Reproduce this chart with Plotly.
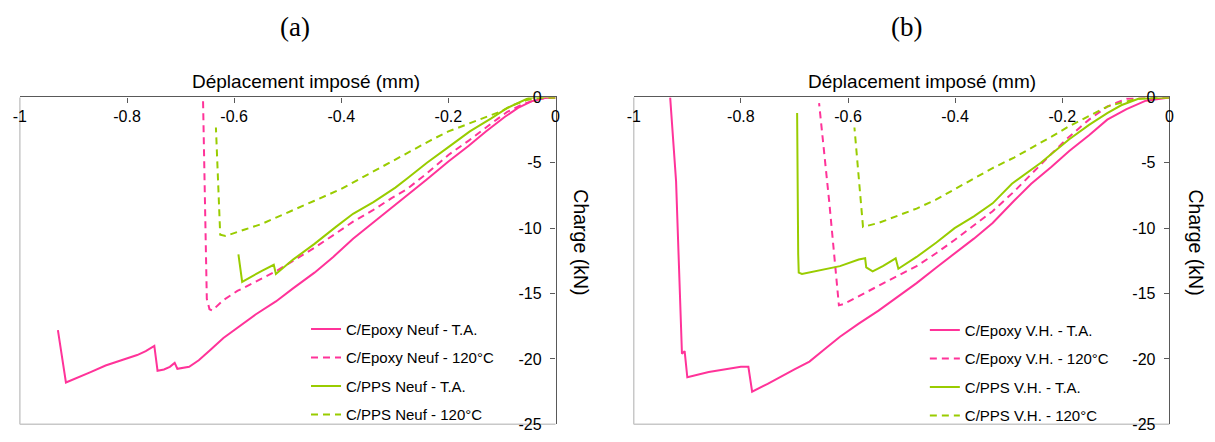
import plotly.graph_objects as go

W, H = 1215, 442

# ---------------- data (x: imposed displacement, mm ; y: load, kN) ----------------
# (a) Neuf
ep_n_ta_x = [0, -0.02, -0.045, -0.07, -0.095, -0.13, -0.162, -0.2, -0.241, -0.275, -0.306, -0.34, -0.378,
             -0.415, -0.45, -0.49, -0.522, -0.56, -0.594, -0.62, -0.644, -0.666, -0.684, -0.697, -0.706,
             -0.711, -0.72, -0.731, -0.743, -0.749, -0.765, -0.781, -0.81, -0.84, -0.868, -0.89, -0.903,
             -0.914, -0.929]
ep_n_ta_y = [0, -0.05, -0.3, -0.8, -1.5, -2.6, -3.7, -4.9, -6.3, -7.4, -8.4, -9.5, -10.8,
             -12.2, -13.4, -14.6, -15.6, -16.6, -17.6, -18.4, -19.3, -20.1, -20.6, -20.7, -20.75,
             -20.3, -20.6, -20.8, -20.9, -19.0, -19.4, -19.7, -20.1, -20.5, -21.0, -21.4, -21.6,
             -21.8, -17.8]

ep_n_120_x = [0, -0.03, -0.06, -0.09, -0.12, -0.162, -0.2, -0.24, -0.277, -0.306, -0.34, -0.378, -0.41,
              -0.45, -0.49, -0.522, -0.56, -0.594, -0.62, -0.641, -0.646, -0.651, -0.658]
ep_n_120_y = [0, -0.1, -0.5, -1.1, -2.0, -3.3, -4.4, -5.8, -7.0, -7.7, -8.6, -9.5, -10.4,
              -11.5, -12.5, -13.3, -14.1, -14.8, -15.5, -16.3, -16.2, -15.4, -0.3]

pps_n_ta_x = [0, -0.03, -0.05, -0.07, -0.09, -0.12, -0.16, -0.2, -0.24, -0.277, -0.299, -0.34, -0.378,
              -0.41, -0.45, -0.49, -0.522, -0.526, -0.55, -0.585, -0.592]
pps_n_ta_y = [0, 0.05, -0.05, -0.4, -0.8, -1.6, -2.6, -3.8, -5.0, -6.2, -6.9, -8.0, -8.9,
              -9.9, -11.2, -12.4, -13.5, -12.8, -13.3, -14.1, -12.0]

pps_n_120_x = [0, -0.03, -0.054, -0.08, -0.104, -0.13, -0.162, -0.2, -0.234, -0.27, -0.306, -0.35, -0.4,
               -0.45, -0.5, -0.55, -0.58, -0.6, -0.616, -0.626, -0.634]
pps_n_120_y = [0, -0.05, -0.2, -0.6, -1.1, -1.5, -2.0, -2.6, -3.3, -4.1, -4.9, -5.9, -7.0,
               -7.9, -8.8, -9.7, -10.1, -10.4, -10.6, -10.5, -2.3]

# (b) V.H.
ep_v_ta_x = [0, -0.044, -0.08, -0.116, -0.15, -0.187, -0.22, -0.258, -0.29, -0.33, -0.365, -0.401, -0.435,
             -0.472, -0.51, -0.543, -0.58, -0.615, -0.645, -0.672, -0.7, -0.722, -0.75, -0.779, -0.786,
             -0.80, -0.83, -0.86, -0.9, -0.905, -0.91, -0.921, -0.932]
ep_v_ta_y = [0, -0.25, -0.9, -1.7, -2.9, -4.1, -5.3, -6.6, -7.9, -9.6, -10.8, -11.9, -13.0,
             -14.2, -15.3, -16.3, -17.3, -18.3, -19.3, -20.2, -20.8, -21.3, -21.9, -22.5, -20.6,
             -20.6, -20.8, -21.0, -21.4, -19.4, -19.6, -6.4, 0]

ep_v_120_x = [0, -0.04, -0.08, -0.116, -0.15, -0.187, -0.22, -0.251, -0.29, -0.33, -0.365, -0.401, -0.435,
              -0.472, -0.51, -0.543, -0.575, -0.608, -0.617, -0.635, -0.654]
ep_v_120_y = [0, -0.02, -0.1, -0.7, -1.7, -3.0, -4.3, -5.6, -7.2, -8.7, -9.8, -10.9, -11.9,
              -12.9, -13.7, -14.4, -15.1, -15.8, -15.9, -8.0, -0.44]

pps_v_ta_x = [0, -0.058, -0.09, -0.116, -0.15, -0.187, -0.24, -0.294, -0.33, -0.365, -0.401, -0.435, -0.472,
              -0.506, -0.511, -0.535, -0.554, -0.561, -0.566, -0.568, -0.58, -0.615, -0.65, -0.686, -0.692,
              -0.693, -0.695]
pps_v_ta_y = [0, -0.1, -0.6, -1.2, -2.1, -3.2, -5.0, -6.6, -8.1, -9.1, -10.0, -11.1, -12.2,
              -13.1, -12.3, -12.9, -13.3, -13.1, -13.0, -12.3, -12.4, -12.9, -13.2, -13.5, -13.4,
              -12.0, -1.2]

pps_v_120_x = [0, -0.03, -0.058, -0.085, -0.116, -0.15, -0.187, -0.22, -0.258, -0.29, -0.33, -0.365, -0.401,
               -0.435, -0.472, -0.51, -0.543, -0.572, -0.588]
pps_v_120_y = [0, -0.02, -0.1, -0.35, -0.7, -1.4, -2.2, -3.0, -3.9, -4.6, -5.4, -6.2, -7.0,
               -7.8, -8.5, -9.1, -9.6, -9.9, -2.3]

names_a = ["C/Epoxy Neuf - T.A.", "C/Epoxy Neuf - 120°C", "C/PPS Neuf - T.A.", "C/PPS Neuf - 120°C"]
names_b = ["C/Epoxy V.H. - T.A.", "C/Epoxy V.H. - 120°C", "C/PPS V.H. - T.A.", "C/PPS V.H. - 120°C"]

x_tickvals = [-1, -0.8, -0.6, -0.4, -0.2, 0]
x_ticktext = ["-1", "-0.8", "-0.6", "-0.4", "-0.2", "0"]
y_tickvals = [0, -5, -10, -15, -20, -25]
y_ticktext = ["0", "-5", "-10", "-15", "-20", "-25"]

panel_labels = ["(a)", "(b)"]
x_title = "Déplacement imposé (mm)"
y_title = "Charge (kN)"

# ---------------- styling ----------------
PINK = "#FF3399"
GREEN = "#99CC00"
DASH = "7px,5px"
SANS = "Liberation Sans, Arial, sans-serif"
SERIF = "Liberation Serif, Times New Roman, serif"
AXC = "#595959"

fig = go.Figure()

series_a = [(ep_n_ta_x, ep_n_ta_y, PINK, "solid"), (ep_n_120_x, ep_n_120_y, PINK, DASH),
            (pps_n_ta_x, pps_n_ta_y, GREEN, "solid"), (pps_n_120_x, pps_n_120_y, GREEN, DASH)]
series_b = [(ep_v_ta_x, ep_v_ta_y, PINK, "solid"), (ep_v_120_x, ep_v_120_y, PINK, DASH),
            (pps_v_ta_x, pps_v_ta_y, GREEN, "solid"), (pps_v_120_x, pps_v_120_y, GREEN, DASH)]

for i, ((xs, ys, c, d), nm) in enumerate(zip(series_a, names_a)):
    fig.add_trace(go.Scatter(x=xs, y=ys, mode="lines", name=nm, line=dict(color=c, width=2, dash=d),
                             xaxis="x", yaxis="y", legend="legend", legendgroup="a%d" % i))
for i, ((xs, ys, c, d), nm) in enumerate(zip(series_b, names_b)):
    fig.add_trace(go.Scatter(x=xs, y=ys, mode="lines", name=nm, line=dict(color=c, width=2, dash=d),
                             xaxis="x2", yaxis="y2", legend="legend2", legendgroup="b%d" % i))

def px(v):
    return v / W

def py(v):
    return 1 - v / H

ydom = [py(433), py(93)]
xdom1 = [px(13), px(554)]
xdom2 = [px(633), px(1174)]

def xaxis_cfg(dom, anchor):
    return dict(domain=dom, anchor=anchor, side="top", range=[-1, 0], tickvals=x_tickvals,
                ticktext=x_ticktext, ticks="inside", ticklen=5, tickcolor=AXC, tickwidth=1,
                ticklabelposition="inside", ticklabeloverflow="allow", ticklabelstandoff=8,
                showline=True, linecolor=AXC, linewidth=1.3, showgrid=False, zeroline=False,
                tickfont=dict(family=SANS, size=16, color="black"), fixedrange=True)

def yaxis_cfg(anchor):
    return dict(domain=ydom, anchor=anchor, side="right", range=[-25, 0], tickvals=y_tickvals,
                ticktext=y_ticktext, ticks="inside", ticklen=5, tickcolor=AXC, tickwidth=1,
                ticklabelposition="inside", ticklabeloverflow="allow", ticklabelstandoff=9,
                showline=True, linecolor=AXC, linewidth=1.3, showgrid=False, zeroline=False,
                tickfont=dict(family=SANS, size=16, color="black"), fixedrange=True)

shapes = []
for xd in (xdom1, xdom2):
    shapes.append(dict(type="line", xref="paper", yref="paper", x0=xd[0], x1=xd[0], y0=ydom[0], y1=ydom[1],
                       line=dict(color="#C8C8C8", width=1.5), layer="below"))
    shapes.append(dict(type="line", xref="paper", yref="paper", x0=xd[0], x1=xd[1], y0=ydom[0], y1=ydom[0],
                       line=dict(color="#C8C8C8", width=1.5), layer="below"))

annotations = []
for lab, cx in zip(panel_labels, (291, 908)):
    annotations.append(dict(text=lab, x=px(cx), y=py(20), xref="paper", yref="paper", showarrow=False,
                            xanchor="center", yanchor="middle", font=dict(family=SERIF, size=27, color="black")))
for cx in (302, 924):
    annotations.append(dict(text=x_title, x=px(cx), y=py(76), xref="paper", yref="paper", showarrow=False,
                            xanchor="center", yanchor="middle", font=dict(family=SANS, size=19, color="black")))
for cx in (580, 1201):
    annotations.append(dict(text=y_title, x=px(cx), y=py(244), xref="paper", yref="paper", showarrow=False,
                            textangle=90, xanchor="center", yanchor="middle",
                            font=dict(family=SANS, size=19.5, color="black")))

legend_common = dict(bgcolor="rgba(0,0,0,0)", borderwidth=0, font=dict(family=SANS, size=15, color="black"),
                     traceorder="grouped", tracegroupgap=6, yanchor="top", xanchor="left",
                     itemwidth=30)

fig.update_layout(
    width=W, height=H, autosize=False,
    margin=dict(l=0, r=0, t=0, b=0),
    paper_bgcolor="white", plot_bgcolor="white",
    xaxis=xaxis_cfg(xdom1, "y"), yaxis=yaxis_cfg("x"),
    xaxis2=xaxis_cfg(xdom2, "y2"), yaxis2=yaxis_cfg("x2"),
    legend=dict(x=px(302), y=py(317), **legend_common),
    legend2=dict(x=px(927), y=py(318), **legend_common),
    shapes=shapes, annotations=annotations,
    showlegend=True,
)

fig.write_html("out.html", config={"displayModeBar": False},
               post_script="document.body.style.margin='0';document.body.style.overflow='hidden';")
